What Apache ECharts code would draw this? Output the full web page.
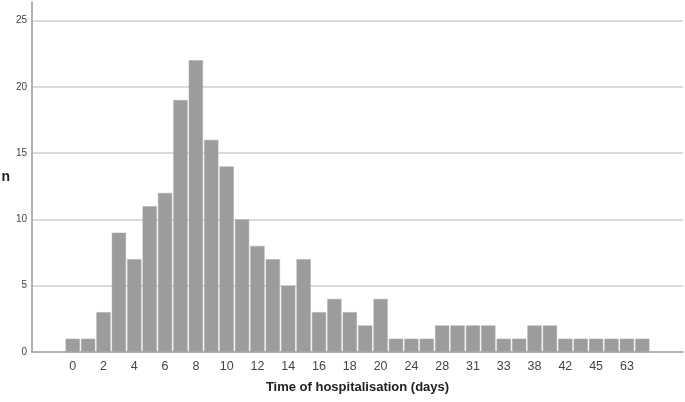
<!DOCTYPE html>
<html><head><meta charset="utf-8">
<script src="https://cdn.jsdelivr.net/npm/echarts@6/dist/echarts.min.js"></script>
<style>html,body{margin:0;padding:0;background:#fff}#c{width:685px;height:402px}</style>
</head><body><div id="c"></div>
<script>
const categories = ['0','1','2','3','4','5','6','7','8','9','10','11','12','13','14','15','16','17','18','19','20','22','24','26','28','30','31','32','33','35','38','40','42','44','45','50','63','70'];
const counts = [1,1,3,9,7,11,12,19,22,16,14,10,8,7,5,7,3,4,3,2,4,1,1,1,2,2,2,2,1,1,2,2,1,1,1,1,1,1];
const yTicks = [0,5,10,15,20,25];
const yName = 'n';
const xName = 'Time of hospitalisation (days)';

const font = 'Liberation Sans, Arial, sans-serif';
const chart = echarts.init(document.getElementById('c'), null, {renderer:'canvas'});
chart.setOption({
  animation:false,
  backgroundColor:'#fff',
  grid:[
    {left:32, right:2, top:2, bottom:50, outerBoundsMode:'none', containLabel:false},
    {left:65, right:35, top:2, bottom:50, outerBoundsMode:'none', containLabel:false}
  ],
  xAxis:[
    {gridIndex:0, type:'value', min:0, max:1, axisLine:{show:true, onZero:false, lineStyle:{color:'#9a9a9a', width:1.5}},
     axisTick:{show:false}, axisLabel:{show:false}, splitLine:{show:false}},
    {gridIndex:1, type:'category', data:categories, boundaryGap:true,
     axisLine:{show:false}, axisTick:{show:false},
     axisLabel:{interval:1, fontFamily:font, fontSize:12.5, color:'#444', margin:8},
     name:xName, nameLocation:'middle', nameGap:29,
     nameTextStyle:{fontFamily:font, fontSize:13, fontWeight:'bold', color:'#222'}}
  ],
  yAxis:[
    {gridIndex:0, type:'value', min:0, max:26.4, interval:5,
     axisLine:{show:true, lineStyle:{color:'#9a9a9a', width:1.5}}, axisTick:{show:false},
     axisLabel:{showMaxLabel:false, fontFamily:font, fontSize:10, color:'#444', margin:5,
       formatter:v=> yTicks.indexOf(v)>=0 ? String(v) : ''},
     splitLine:{show:true, showMaxLine:false, showMinLine:false, lineStyle:{color:'#cfcfcf', width:1.5}},
     name:yName, nameLocation:'middle', nameRotate:0, nameGap:22,
     nameTextStyle:{fontFamily:font, fontSize:14, fontWeight:'bold', color:'#222'}},
    {gridIndex:1, type:'value', min:0, max:26.4, show:false, splitLine:{show:false}}
  ],
  series:[{
    type:'bar', xAxisIndex:1, yAxisIndex:1, data:counts,
    barCategoryGap:'8%',
    itemStyle:{color:'#9c9c9c', borderColor:'#a8a8a8', borderWidth:0.5},
    z:3
  }]
});
</script></body></html>
